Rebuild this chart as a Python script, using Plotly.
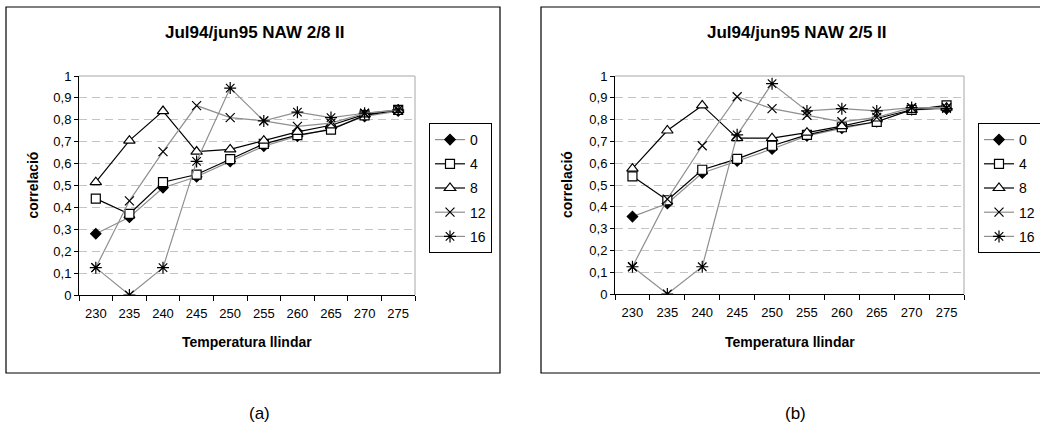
import plotly.graph_objects as go

W, H = 1040, 438

# Threshold temperatures (categories on the x axis)
temperatures = ["230", "235", "240", "245", "250", "255", "260", "265", "270", "275"]

# Series names (legend entries)
series_names = ["0", "4", "8", "12", "16"]

# Panel (a): Jul94/jun95 NAW 2/8 II
a_s0 = [0.28, 0.355, 0.49, 0.54, 0.61, 0.68, 0.725, 0.76, 0.815, 0.84]
a_s4 = [0.44, 0.37, 0.515, 0.55, 0.62, 0.69, 0.73, 0.755, 0.82, 0.845]
a_s8 = [0.515, 0.705, 0.84, 0.655, 0.665, 0.705, 0.745, 0.775, 0.825, 0.845]
a_s12 = [0.125, 0.43, 0.655, 0.865, 0.81, 0.795, 0.77, 0.785, 0.83, 0.845]
a_s16 = [0.125, 0.0, 0.125, 0.61, 0.945, 0.795, 0.835, 0.81, 0.83, 0.845]

# Panel (b): Jul94/jun95 NAW 2/5 II
b_s0 = [0.355, 0.415, 0.555, 0.61, 0.665, 0.725, 0.76, 0.79, 0.845, 0.85]
b_s4 = [0.54, 0.43, 0.57, 0.62, 0.68, 0.73, 0.765, 0.79, 0.845, 0.865]
b_s8 = [0.575, 0.75, 0.865, 0.715, 0.715, 0.74, 0.77, 0.805, 0.845, 0.855]
b_s12 = [0.125, 0.435, 0.68, 0.905, 0.85, 0.82, 0.79, 0.81, 0.855, 0.855]
b_s16 = [0.125, 0.0, 0.125, 0.73, 0.965, 0.84, 0.85, 0.84, 0.855, 0.85]

# Y tick values and labels (decimal comma)
y_tickvals = [0, 0.1, 0.2, 0.3, 0.4, 0.5, 0.6, 0.7, 0.8, 0.9, 1]
y_ticktext = ["0", "0,1", "0,2", "0,3", "0,4", "0,5", "0,6", "0,7", "0,8", "0,9", "1"]

panel_titles = ["Jul94/jun95 NAW 2/8 II", "Jul94/jun95 NAW 2/5 II"]
captions = ["(a)", "(b)"]
x_title = "Temperatura llindar"
y_title = "correlació"

FONT = "Liberation Sans, Arial, sans-serif"
GRAY = "#8f8f8f"

# marker / line style for each series
styles = [
    dict(line=GRAY, symbol="diamond", size=8, fill="black"),
    dict(line="black", symbol="square", size=9, fill="white"),
    dict(line="black", symbol="triangle-up", size=10, fill="white"),
    dict(line=GRAY, symbol="x-thin-open", size=9, fill="black"),
    dict(line=GRAY, symbol="asterisk-open", size=10, fill="black"),
]


def px_x(x):
    return x / W


def px_y(y):
    return 1 - y / H


fig = go.Figure()

panels = [
    dict(data=[a_s0, a_s4, a_s8, a_s12, a_s16], xa="x", ya="y", legend="legend"),
    dict(data=[b_s0, b_s4, b_s8, b_s12, b_s16], xa="x2", ya="y2", legend="legend2"),
]

for p in panels:
    for name, vals, st in zip(series_names, p["data"], styles):
        fig.add_trace(go.Scatter(
            x=temperatures, y=vals, name=name, mode="lines+markers",
            xaxis=p["xa"], yaxis=p["ya"], legend=p["legend"], legendgroup=p["legend"] + name,
            line=dict(color=st["line"], width=1.2),
            marker=dict(symbol=st["symbol"], size=st["size"], color=st["fill"],
                        line=dict(color="black", width=1.2)),
        ))

# plot areas in pixels: (left, right, top, bottom)
areas = [(79, 415, 76, 295), (615, 964, 76, 294)]

axis_common_x = dict(
    type="category", range=[-0.5, 9.5], showline=True, linecolor="black", linewidth=1,
    ticks="outside", tickson="boundaries", ticklen=5, tickcolor="black", ticklabelstandoff=6,
    showgrid=False, tickfont=dict(family=FONT, size=13, color="black"), fixedrange=True,
)
axis_common_y = dict(
    range=[0, 1], tickvals=y_tickvals, ticktext=y_ticktext, showline=True,
    linecolor="black", linewidth=1, ticks="outside", ticklen=4, tickcolor="black",
    showgrid=True, gridcolor="#c4c4c4", griddash="8px,5px", gridwidth=1, zeroline=False,
    tickfont=dict(family=FONT, size=13, color="black"), fixedrange=True,
)

layout = dict(
    width=W, height=H,
    margin=dict(l=0, r=0, t=0, b=0, autoexpand=False),
    paper_bgcolor="white", plot_bgcolor="white",
    font=dict(family=FONT, color="black"),
    xaxis=dict(domain=[px_x(areas[0][0]), px_x(areas[0][1])], anchor="y", **axis_common_x),
    yaxis=dict(domain=[px_y(areas[0][3]), px_y(areas[0][2])], anchor="x", **axis_common_y),
    xaxis2=dict(domain=[px_x(areas[1][0]), px_x(areas[1][1])], anchor="y2", **axis_common_x),
    yaxis2=dict(domain=[px_y(areas[1][3]), px_y(areas[1][2])], anchor="x2", **axis_common_y),
)

legend_common = dict(
    xref="paper", yref="paper", xanchor="left", yanchor="top",
    bgcolor="white", bordercolor="black", borderwidth=1,
    font=dict(family=FONT, size=14, color="black"),
    traceorder="grouped", tracegroupgap=3, itemwidth=30,
)
layout["legend"] = dict(x=px_x(429), y=px_y(123), **legend_common)
layout["legend2"] = dict(x=px_x(978), y=px_y(123), **legend_common)

fig.update_layout(**layout)

shapes = []
annotations = []
# outer chart frames
frames = [(6, 500, 7, 373), (541, 1046, 7, 373)]
for (l, r, t, b) in frames:
    shapes.append(dict(type="rect", xref="paper", yref="paper",
                       x0=px_x(l), x1=px_x(r), y0=px_y(b), y1=px_y(t),
                       line=dict(color="black", width=1.2), layer="below"))


def label(text, x, y, size, angle=0):
    return dict(text=text, x=px_x(x), y=px_y(y), xref="paper", yref="paper",
                xanchor="center", yanchor="middle", showarrow=False, textangle=angle,
                font=dict(family=FONT, size=size, color="black"))


title_x = [255, 797]
xtitle_x = [247, 790]
ytitle_x = [32, 567]
caption_x = [259, 795]
for i, (l, r, t, b) in enumerate(areas):
    # light grey top and right border of the plot area
    shapes.append(dict(type="line", xref="paper", yref="paper",
                       x0=px_x(l), x1=px_x(r), y0=px_y(t), y1=px_y(t),
                       line=dict(color="#c4c4c4", width=1.5), layer="below"))
    shapes.append(dict(type="line", xref="paper", yref="paper",
                       x0=px_x(r), x1=px_x(r), y0=px_y(t), y1=px_y(b),
                       line=dict(color="#c4c4c4", width=1.5), layer="below"))
    annotations.append(label("<b>%s</b>" % panel_titles[i], title_x[i], 32, 17))
    annotations.append(label("<b>%s</b>" % x_title, xtitle_x[i], 342, 14))
    annotations.append(label("<b>%s</b>" % y_title, ytitle_x[i], (t + b) / 2, 14, -90))
    annotations.append(label(captions[i], caption_x[i], 413, 17))

fig.update_layout(shapes=shapes, annotations=annotations)

fig.write_html("out.html", config={"displayModeBar": False})
